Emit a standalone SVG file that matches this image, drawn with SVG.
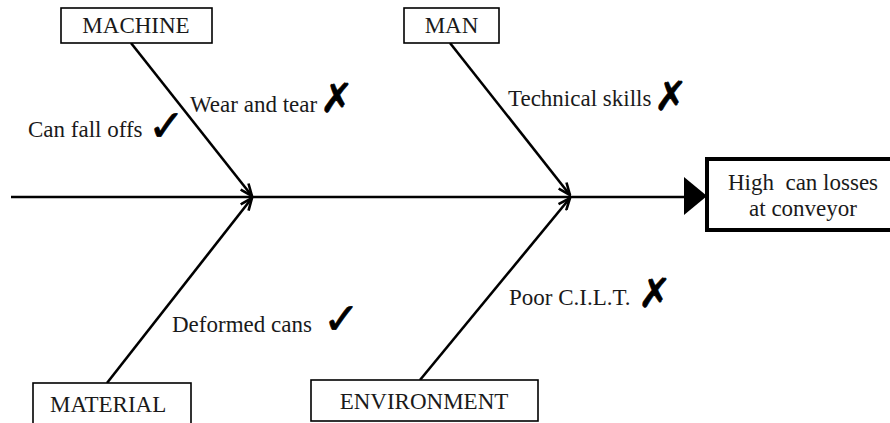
<svg xmlns="http://www.w3.org/2000/svg" width="890" height="423" viewBox="0 0 890 423">
  <style>
    .box { fill: #fff; stroke: #000; stroke-width: 1.6; }
    .effect { fill: #fff; stroke: #000; stroke-width: 4; }
    .lbl { font-family: "Liberation Serif", "Times New Roman", serif; font-size: 23px; fill: #1a1a1a; }
    .mid { text-anchor: middle; }
    .mark { font-family: "DejaVu Sans", sans-serif; fill: #000; stroke: #000; stroke-width: 0.7; }
    .bone { stroke: #000; stroke-width: 2.6; fill: none; }
  </style>
  <defs>
    <marker id="tip" viewBox="0 0 14 12" refX="13" refY="6" markerWidth="14" markerHeight="12" markerUnits="userSpaceOnUse" orient="auto">
      <path d="M1,1 L13,6 L1,11" fill="none" stroke="#000" stroke-width="2.6"/>
    </marker>
  </defs>

  <!-- spine and cause branches -->
  <g id="connectors">
    <line class="bone" x1="11" y1="197" x2="688" y2="197"/>
    <polygon points="684,177 707,196 684,215" fill="#000"/>
    <line class="bone" x1="131" y1="43" x2="252" y2="196" marker-end="url(#tip)"/>
    <line class="bone" x1="107" y1="383" x2="252" y2="198" marker-end="url(#tip)"/>
    <line class="bone" x1="450" y1="43" x2="570" y2="195" marker-end="url(#tip)"/>
    <line class="bone" x1="420" y1="380" x2="570" y2="198" marker-end="url(#tip)"/>
  </g>

  <g id="machine">
    <rect class="box" x="61" y="8" width="151" height="35"/>
    <text class="lbl mid" x="136" y="33">MACHINE</text>
  </g>
  <g id="man">
    <rect class="box" x="404" y="8" width="95" height="35"/>
    <text class="lbl mid" x="451.5" y="33">MAN</text>
  </g>
  <g id="material">
    <rect class="box" x="33" y="383" width="158" height="50"/>
    <text class="lbl" x="50" y="412">MATERIAL</text>
  </g>
  <g id="environment">
    <rect class="box" x="311" y="380" width="227" height="41"/>
    <text class="lbl mid" x="424" y="409">ENVIRONMENT</text>
  </g>
  <g id="effect">
    <rect class="effect" x="707" y="159" width="200" height="71"/>
    <text class="lbl mid" x="803" y="190">High&#160; can losses</text>
    <text class="lbl mid" x="803" y="216">at conveyor</text>
  </g>

  <!-- causes with their verdict marks -->
  <g id="cause-wear">
    <text class="lbl" x="190" y="112">Wear and tear</text>
    <text class="mark" x="320" y="112" font-size="40">✗</text>
  </g>
  <g id="cause-fall">
    <text class="lbl" x="28" y="137">Can fall offs</text>
    <text class="mark" x="148" y="141" font-size="44">✓</text>
  </g>
  <g id="cause-skills">
    <text class="lbl" x="508" y="106">Technical skills</text>
    <text class="mark" x="654" y="110" font-size="40">✗</text>
  </g>
  <g id="cause-deformed">
    <text class="lbl" x="172" y="332">Deformed cans</text>
    <text class="mark" x="323" y="334" font-size="44">✓</text>
  </g>
  <g id="cause-cilt">
    <text class="lbl" x="509" y="305">Poor C.I.L.T.</text>
    <text class="mark" x="638" y="307" font-size="40">✗</text>
  </g>
</svg>
